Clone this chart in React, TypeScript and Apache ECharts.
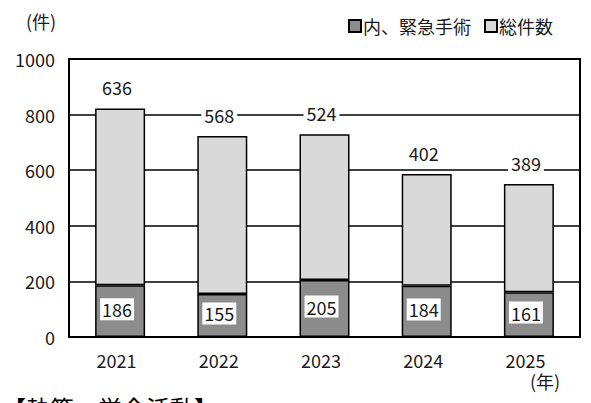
import React, { useEffect, useRef } from "react";
import * as echarts from "echarts";

const years = ["2021", "2022", "2023", "2024", "2025"];
const emergency = [186, 155, 205, 184, 161];
const totalRest = [636, 568, 524, 402, 389];
const yTicks = { min: 0, max: 1000, interval: 200 };

const FONT = "'Noto Sans CJK JP', 'Noto Sans', sans-serif";
const TXT = "#1a1a1a";
const FS = 18;

export default function App() {
  const ref = useRef<HTMLDivElement>(null);
  useEffect(() => {
    document.body.style.margin = "0";
    const chart = echarts.init(ref.current!, null, { renderer: "svg" });
    chart.setOption({
      animation: false,
      backgroundColor: "#fff",
      textStyle: { fontFamily: FONT },
      legend: {
        left: 343,
        top: 12,
        itemWidth: 12,
        itemHeight: 12,
        itemGap: 13,
        textStyle: { fontSize: FS, color: TXT, fontFamily: FONT, padding: [0, 0, 0, -3] },
        data: [
          { name: "内、緊急手術", icon: "rect" },
          { name: "総件数", icon: "rect" },
        ],
      },
      grid: {
        left: 69,
        right: 11,
        top: 59,
        bottom: 66,
        show: true,
        borderColor: "#000",
        borderWidth: 2,
      },
      xAxis: {
        type: "category",
        data: years,
        axisLine: { lineStyle: { color: "#000", width: 2 } },
        axisTick: { inside: true, length: 5, lineStyle: { color: "#000", width: 2 } },
        axisLabel: { fontSize: FS, color: TXT, margin: 14, fontFamily: FONT, padding: [0, 7, 0, 0] },
      },
      yAxis: {
        type: "value",
        min: yTicks.min,
        max: yTicks.max,
        interval: yTicks.interval,
        axisLine: { show: true, lineStyle: { color: "#000", width: 2 } },
        axisTick: { show: false },
        axisLabel: {
          fontSize: FS,
          color: TXT,
          margin: 14,
          fontFamily: FONT,
          formatter: (v: number) => String(v),
        },
        splitLine: { lineStyle: { color: "#000", width: 1.5 } },
      },
      series: [
        {
          name: "内、緊急手術",
          type: "bar",
          stack: "a",
          data: emergency,
          barWidth: 50,
          itemStyle: { color: "#8c8c8c", borderColor: "#000", borderWidth: 1.5 },
          label: {
            show: true,
            position: "inside",
            offset: [-3, -2],
            fontSize: FS,
            color: TXT,
            fontFamily: FONT,
            backgroundColor: "#fff",
            padding: [1, 2, 0, 2],
            lineHeight: 21,
          },
        },
        {
          name: "総件数",
          type: "bar",
          stack: "a",
          data: totalRest,
          barWidth: 50,
          itemStyle: { color: "#d9d9d9", borderColor: "#000", borderWidth: 1.5 },
          label: {
            show: true,
            position: "top",
            distance: 11,
            offset: [-3, 0],
            fontSize: FS,
            color: TXT,
            fontFamily: FONT,
            backgroundColor: "#fff",
            padding: [0, 3],
            lineHeight: 20,
          },
        },
      ],
      graphic: [
        {
          type: "text",
          left: 26,
          top: 12,
          style: { text: "(件)", fontSize: FS, fill: TXT, fontFamily: FONT },
        },
        {
          type: "text",
          left: 530,
          top: 372,
          style: { text: "(年)", fontSize: FS, fill: TXT, fontFamily: FONT },
        },
        {
          type: "text",
          left: 2,
          top: 395,
          style: { text: "【執筆・学会活動】", fontSize: 24, fill: "#000", fontFamily: FONT },
        },
      ],
    });
    return () => chart.dispose();
  }, []);
  return (
    <div
      ref={ref}
      style={{ position: "absolute", left: 0, top: 0, width: 591, height: 403 }}
    />
  );
}
